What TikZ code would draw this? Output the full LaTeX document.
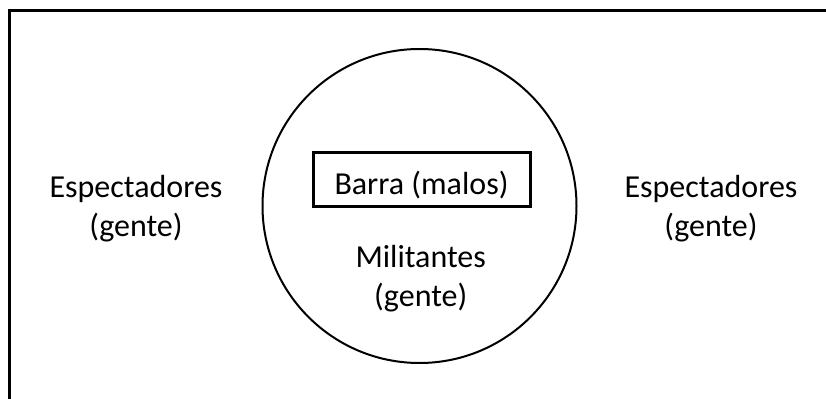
\documentclass[tikz,border=0pt]{standalone}
\usepackage{fontspec}
\setmainfont{Carlito}
\usetikzlibrary{positioning}

\tikzset{
  label text/.style={align=center, font=\fontsize{24pt}{29.3pt}\selectfont, inner sep=0pt},
  ring/.style={draw, circle, line width=1.5pt, minimum size=235.5pt, inner sep=0pt},
  barbox/.style={draw, line width=2.25pt, minimum width=162.75pt, minimum height=40.5pt, inner sep=0pt}
}

\begin{document}
\begin{tikzpicture}[x=0.75pt,y=-0.75pt]

\useasboundingbox (0,0) rectangle (826,399);
\clip (0,0) rectangle (826,399);

\draw [line width=2.25pt] (9.5,10.5) rectangle (840,420);

\node [ring] (circ) at (419.5,206) {};
\node [barbox] (barra) at (421.5,180) {};

% base anchor sits on the last line
\node [label text, anchor=base] (barratxt) at (421.5,195) {Barra (malos)};
\node [label text, anchor=base] (milit) at (420.7,306.5) {Militantes\\(gente)};
\node [label text, anchor=base] (espizq) at (136,236.5) {Espectadores\\(gente)};
\node [label text, anchor=base] (espder) at (711,236.5) {Espectadores\\(gente)};

\end{tikzpicture}
\end{document}
